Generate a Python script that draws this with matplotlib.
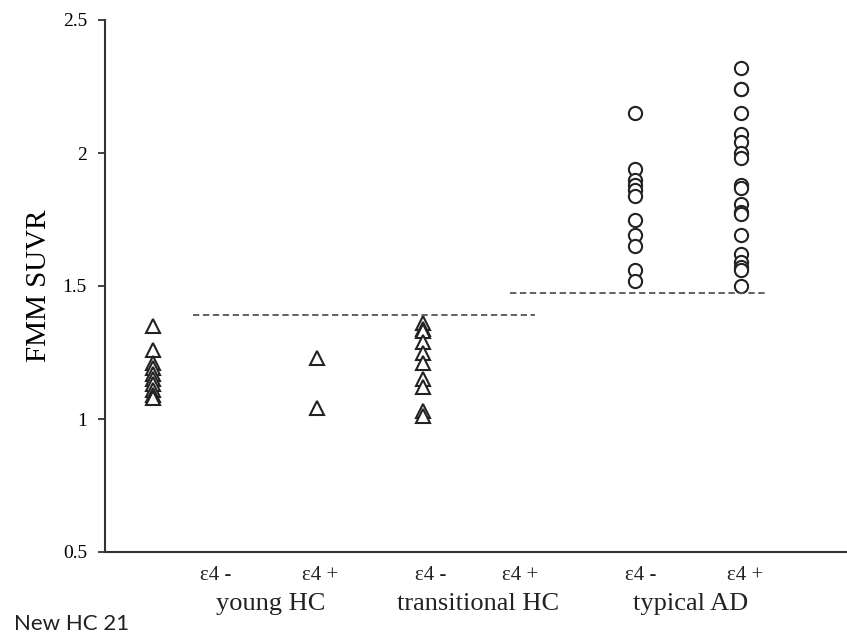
import matplotlib
matplotlib.use("Agg")
import matplotlib.pyplot as plt

# x positions on a 0..7 axis (one unit ~ one column slot)
young_neg_x = 0.45
young_pos_x = 2.0
trans_neg_x = 3.0
ad_neg_x = 5.0
ad_pos_x = 6.0

young_neg = [1.35, 1.26, 1.21, 1.19, 1.17, 1.15, 1.13, 1.11, 1.09, 1.08]
young_pos = [1.23, 1.04]
trans_neg = [1.36, 1.34, 1.33, 1.29, 1.25, 1.21, 1.15, 1.12, 1.03, 1.01]
ad_neg = [2.15, 1.94, 1.90, 1.88, 1.86, 1.84, 1.75, 1.69, 1.65, 1.56, 1.52]
ad_pos = [2.32, 2.24, 2.24, 2.15, 2.07, 2.04, 2.00, 1.98, 1.88, 1.87, 1.81,
          1.78, 1.77, 1.69, 1.62, 1.59, 1.57, 1.56, 1.50]

hc_cutoff = 1.39
ad_cutoff = 1.475
hc_cut_span = (0.83, 4.06)
ad_cut_span = (3.82, 6.25)

apoe_labels = ["ε4 -", "ε4 +", "ε4 -", "ε4 +", "ε4 -", "ε4 +"]
apoe_label_x = [1.04, 2.03, 3.07, 3.92, 5.05, 6.04]
group_labels = ["young HC", "transitional HC", "typical AD"]
group_label_x = [1.56, 3.52, 5.52]

yticks = [0.5, 1, 1.5, 2, 2.5]
ytick_labels = ["0.5", "1", "1.5", "2", "2.5"]

serif = ["Liberation Serif", "DejaVu Serif"]

fig = plt.figure(figsize=(8.47, 6.34), dpi=100)
ax = fig.add_axes([105 / 847, 1 - 552 / 634, 1 - 105 / 847, (552 - 20) / 634])

tri = dict(marker="^", linestyle="none", markersize=9.5, markerfacecolor="white",
           markeredgecolor="#222222", markeredgewidth=1.5)
circ = dict(marker="o", linestyle="none", markersize=9.5, markerfacecolor="white",
            markeredgecolor="#222222", markeredgewidth=1.5)

ax.plot([young_neg_x] * len(young_neg), young_neg, **tri)
ax.plot([young_pos_x] * len(young_pos), young_pos, **tri)
ax.plot([trans_neg_x] * len(trans_neg), trans_neg, **tri)
ax.plot([ad_neg_x] * len(ad_neg), ad_neg, **circ)
ax.plot([ad_pos_x] * len(ad_pos), ad_pos, **circ)

# amyloid-positivity cut-offs
ax.plot(hc_cut_span, [hc_cutoff] * 2, linestyle=(0, (3.5, 2)), color="#555555", lw=1.3)
ax.plot(ad_cut_span, [ad_cutoff] * 2, linestyle=(0, (3.5, 2)), color="#555555", lw=1.3)

ax.set_xlim(0, 7.0)
ax.set_ylim(0.5, 2.5)
ax.set_xticks([])
ax.set_yticks(yticks)
ax.set_yticklabels(ytick_labels, fontfamily=serif, fontsize=14)
ax.tick_params(axis="y", direction="out", length=5, width=1.3, color="#333333", pad=8)
ax.spines["top"].set_visible(False)
ax.spines["right"].set_visible(False)
ax.spines["left"].set_linewidth(1.5)
ax.spines["bottom"].set_linewidth(1.5)
ax.spines["left"].set_color("#333333")
ax.spines["bottom"].set_color("#333333")
ax.set_ylabel("FMM SUVR", fontfamily=serif, fontsize=21, labelpad=8)

for lab, x in zip(apoe_labels, apoe_label_x):
    ax.text(x, -0.045, lab, transform=ax.get_xaxis_transform(), ha="center", va="center",
            fontfamily=serif, fontsize=15, color="#222222")
for lab, x in zip(group_labels, group_label_x):
    ax.text(x, -0.097, lab, transform=ax.get_xaxis_transform(), ha="center", va="center",
            fontfamily=serif, fontsize=19, color="#222222")

fig.text(14 / 847, 1 - 624 / 634, "New HC 21", ha="left", va="center",
         fontfamily=["Lato", "DejaVu Sans"], fontsize=16, color="#222222")

fig.savefig("out.png", dpi=100)
